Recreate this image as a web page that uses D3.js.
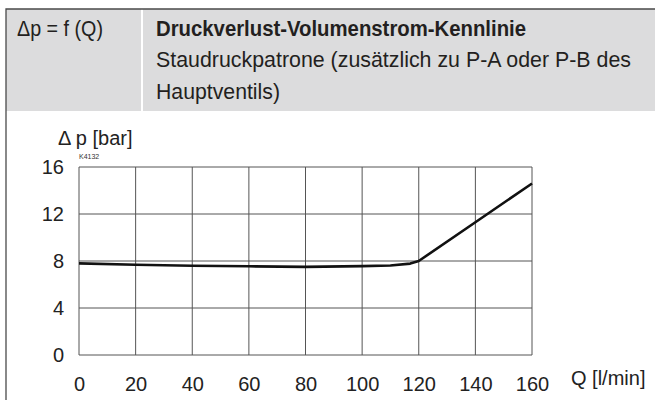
<!DOCTYPE html>
<html>
<head>
<meta charset="utf-8">
<script src="https://cdn.jsdelivr.net/npm/d3@7"></script>
<style>
  body { margin: 0; background: #fff; }
  svg text { font-family: "Liberation Sans", Arial, sans-serif; }
  .narrow { font-family: "Liberation Sans Narrow", "Liberation Sans", Arial, sans-serif; }
</style>
</head>
<body>
<svg id="chart" width="655" height="400"></svg>
<script>
// data
const flow = [0, 20, 40, 60, 80, 100, 110, 117, 120, 140, 160];
const pressure = [7.8, 7.68, 7.6, 7.55, 7.5, 7.56, 7.62, 7.78, 8.0, 11.3, 14.6];
const xTicks = [0, 20, 40, 60, 80, 100, 120, 140, 160];
const yTicks = [0, 4, 8, 12, 16];

const svg = d3.select("svg#chart");
const width = +svg.attr("width");
const height = +svg.attr("height");

// frame + header
const frame = { left: 6, top: 9 };
const headerBottom = 111;
const divider = 142;

svg.append("rect")
  .attr("x", frame.left).attr("y", frame.top)
  .attr("width", width).attr("height", headerBottom - frame.top)
  .attr("fill", "#dcdcdd");
svg.append("line")
  .attr("x1", divider).attr("x2", divider)
  .attr("y1", frame.top).attr("y2", headerBottom)
  .attr("stroke", "#fff").attr("stroke-width", 2);
svg.append("line")
  .attr("x1", frame.left).attr("x2", width)
  .attr("y1", headerBottom + 1).attr("y2", headerBottom + 1)
  .attr("stroke", "#fff").attr("stroke-width", 2);
svg.append("path")
  .attr("d", `M${width},${frame.top}H${frame.left}V${height}`)
  .attr("fill", "none").attr("stroke", "#4a4a4a").attr("stroke-width", 1.3);

// header text is a condensed face: squeeze it to the measured widths
const header = svg.append("g").attr("class", "narrow").attr("fill", "#231f20").attr("font-size", 22);
header.append("text").attr("x", 17).attr("y", 36)
  .attr("textLength", 86).attr("lengthAdjust", "spacingAndGlyphs")
  .text("Δp = f (Q)");
header.append("text").attr("x", 156).attr("y", 36)
  .attr("font-weight", "bold")
  .attr("textLength", 370).attr("lengthAdjust", "spacingAndGlyphs")
  .text("Druckverlust-Volumenstrom-Kennlinie");
header.append("text").attr("x", 156).attr("y", 67)
  .attr("textLength", 475).attr("lengthAdjust", "spacingAndGlyphs")
  .text("Staudruckpatrone (zusätzlich zu P-A oder P-B des");
header.append("text").attr("x", 156).attr("y", 99)
  .attr("textLength", 124).attr("lengthAdjust", "spacingAndGlyphs")
  .text("Hauptventils)");

// chart
const x = d3.scaleLinear([0, 160], [79, 532]);
const y = d3.scaleLinear([0, 16], [355, 167]);

const grid = svg.append("g").attr("stroke", "#555").attr("stroke-width", 1);
grid.selectAll(".vx").data(xTicks).join("line")
  .attr("x1", (d) => x(d)).attr("x2", (d) => x(d))
  .attr("y1", y(0)).attr("y2", y(16));
grid.selectAll(".hy").data(yTicks).join("line")
  .attr("x1", x(0)).attr("x2", x(160))
  .attr("y1", (d) => y(d)).attr("y2", (d) => y(d));

svg.append("g")
  .attr("transform", `translate(0,${y(0)})`)
  .call(d3.axisBottom(x).tickValues(xTicks).tickSize(0).tickPadding(22).tickFormat(d3.format("d")))
  .call((g) => g.select(".domain").remove())
  .selectAll("text")
  .attr("font-family", null)
  .attr("font-size", 20).attr("fill", "#222");

svg.append("g")
  .attr("transform", `translate(${x(0)},0)`)
  .call(d3.axisLeft(y).tickValues(yTicks).tickSize(0).tickPadding(15).tickFormat(d3.format("d")))
  .call((g) => g.select(".domain").remove())
  .selectAll("text")
  .attr("font-family", null)
  .attr("font-size", 20).attr("fill", "#222");

svg.append("text").attr("x", 58).attr("y", 145)
  .attr("font-size", 20).attr("fill", "#222")
  .text("Δ p [bar]");
svg.append("text").attr("x", 571).attr("y", 385)
  .attr("font-size", 20).attr("fill", "#222")
  .text("Q [l/min]");
svg.append("text").attr("x", 79).attr("y", 159)
  .attr("font-size", 7).attr("fill", "#333")
  .text("K4132");

const line = d3.line()
  .x((d, i) => x(flow[i]))
  .y((d) => y(d));

svg.append("path")
  .attr("d", line(pressure))
  .attr("fill", "none")
  .attr("stroke", "#111")
  .attr("stroke-width", 2.6)
  .attr("stroke-linejoin", "round");
</script>
</body>
</html>
